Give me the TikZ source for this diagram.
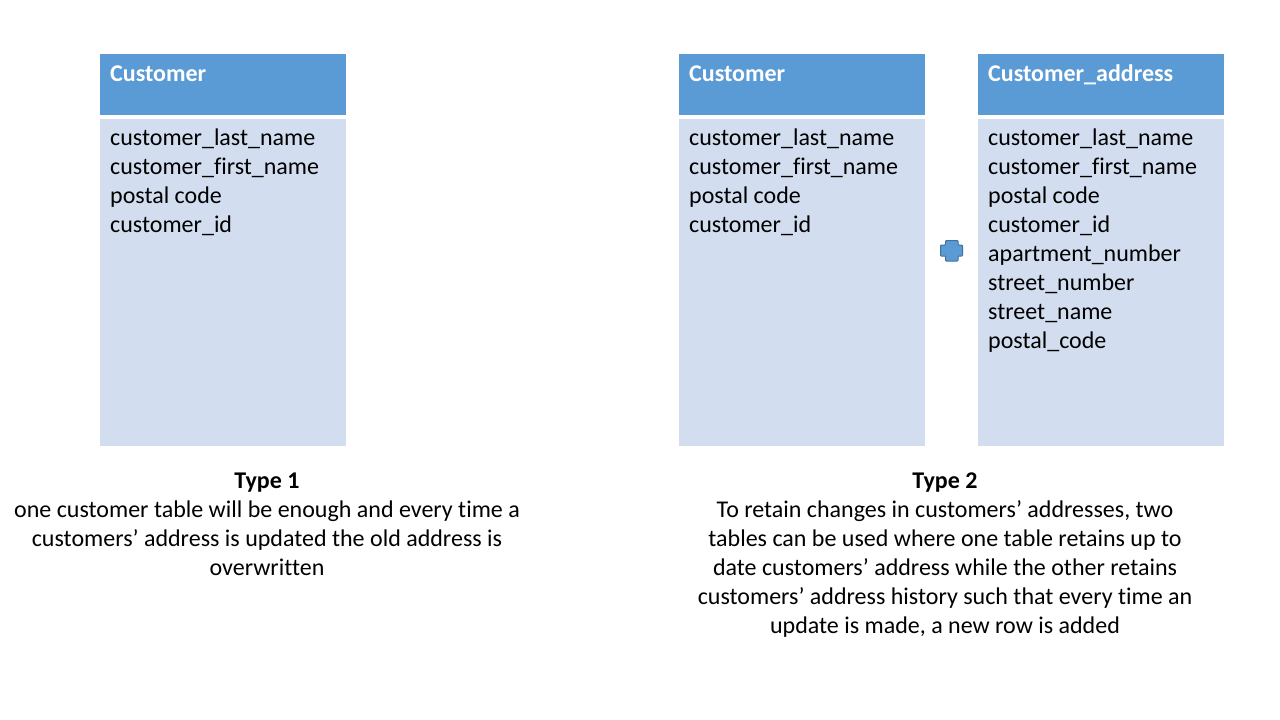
\documentclass[tikz,border=0pt]{standalone}
\usepackage{fontspec}
\setmainfont[Ligatures=NoCommon]{Carlito}
\definecolor{hdr}{HTML}{5B9BD5}
\definecolor{bdy}{HTML}{D2DEEF}
\definecolor{plusedge}{HTML}{41719C}
\begin{document}
\begin{tikzpicture}[x=1pt,y=-1pt,
  hdrbox/.style={fill=hdr,draw=none},
  bdybox/.style={fill=bdy,draw=none},
  hdrtext/.style={anchor=base west,inner sep=0pt,text=white,font=\fontsize{24}{29}\selectfont\bfseries},
  rowtext/.style={anchor=north west,inner sep=0pt,align=left,font=\fontsize{24}{28.9}\selectfont},
  captext/.style={anchor=north,inner sep=0pt,align=center,font=\fontsize{24}{29}\selectfont}]
\useasboundingbox (0,0) rectangle (1280,720);
% table 1
\path[hdrbox] (100,54) rectangle (346,115);
\path[bdybox] (100,119) rectangle (346,446);
\node[hdrtext] (h1) at (110,81) {Customer};
\node[rowtext] (r1) at (110,129) {customer\_last\_name\\customer\_first\_name\\postal code\\customer\_id};
% table 2
\path[hdrbox] (679,54) rectangle (925,115);
\path[bdybox] (679,119) rectangle (925,446);
\node[hdrtext] (h2) at (689,81) {Customer};
\node[rowtext] (r2) at (689,129) {customer\_last\_name\\customer\_first\_name\\postal code\\customer\_id};
% table 3
\path[hdrbox] (978,54) rectangle (1224,115);
\path[bdybox] (978,119) rectangle (1224,446);
\node[hdrtext] (h3) at (988,81) {Customer\_address};
\node[rowtext] (r3) at (988,129) {customer\_last\_name\\customer\_first\_name\\postal code\\customer\_id\\apartment\_number\\street\_number\\street\_name\\postal\_code};
% plus
\draw[fill=hdr,draw=plusedge,line width=1pt,rounded corners=0.8pt]
 (945.5,240.5) -- (958,240.5) -- (958,245) -- (962.5,245) -- (962.5,256) -- (958,256) -- (958,261) -- (945.5,261) -- (945.5,256) -- (940.5,256) -- (940.5,245) -- (945.5,245) -- cycle;
% captions
\node[captext] (c1) at (267,473) {\textbf{Type 1}\\one customer table will be enough and every time a\\customers’ address is updated the old address is\\overwritten};
\node[captext] (c2) at (945,473) {\textbf{Type 2}\\To retain changes in customers’ addresses, two\\tables can be used where one table retains up to\\date customers’ address while the other retains\\customers’ address history such that every time an\\update is made, a new row is added};
\end{tikzpicture}
\end{document}
